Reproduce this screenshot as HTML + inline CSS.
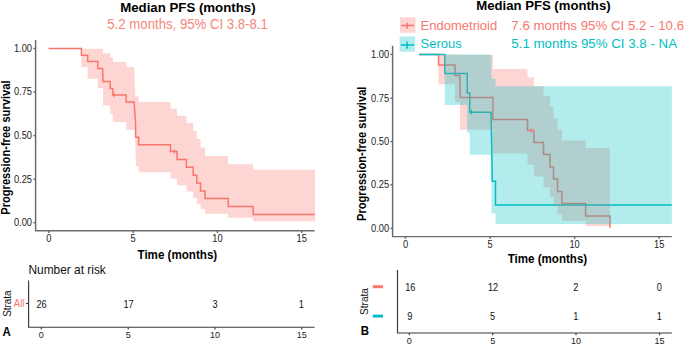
<!DOCTYPE html><html><head><meta charset="utf-8"><style>html,body{margin:0;padding:0;background:#fff;overflow:hidden}svg{display:block}text{font-family:"Liberation Sans",sans-serif}</style></head><body>
<svg width="685" height="344" viewBox="0 0 685 344">
<polyline points="48.5,48.5 81.4,48.5 81.4,55.2 87.7,55.2 87.7,61.6 97.75,61.6 97.75,68.5 102.6,68.5 103.1,81.6 110.2,81.6 110.2,88.4 112.8,88.4 112.8,95 126.2,95 126.2,101.9 134.1,101.9 135.25,118 135.6,124 135.6,137.25 138.6,137.25 138.6,144.75 170.5,144.75 170.5,151.4 177,151.4 177,159.4 186.4,159.4 186.4,167.25 193.2,167.25 193.2,175.3 196.8,175.3 196.8,183.1 200.5,183.1 200.5,190.9 205,190.9 205,198.5 228.2,198.5 228.2,206.4 253.1,206.4 253.1,214.45 314.9,214.45" fill="none" stroke="#F8766D" stroke-width="1.5"/>
<polygon points="81.4,48.75 103.1,48.75 103.1,53.25 110.2,53.25 110.2,57.25 112.8,57.25 112.8,61.9 126.2,61.9 126.2,67.1 134.2,67.1 135.3,96.25 138.6,96.25 138.6,102.1 170.5,102.1 170.5,108.75 177,108.75 177,115.8 186.4,115.8 186.4,123.1 193.2,123.1 193.2,131 196.8,131 196.8,139 200.5,139 200.5,147.6 205,147.6 205,156 228.2,156 228.2,164.25 253.1,164.25 253.1,169.7 315,169.7 315,221.2 253.1,221.2 253.1,217.7 228.2,217.7 228.2,213.8 205,213.8 205,209 200.5,209 200.5,204 196.8,204 196.8,197.9 193.2,197.9 193.2,191.6 186.4,191.6 186.4,185.25 177,185.25 177,178.5 170.5,178.5 170.5,172.3 138.6,172.3 138.6,166 136,166 135,129.75 126.2,129.75 126.2,121.9 112.8,121.9 112.8,113.75 110.2,113.75 110.2,105.6 103.1,105.6 103.1,88.1 97.75,88.1 97.75,78.75 87.7,78.75 87.7,67.1 81.4,67.1" fill="#F8766D" fill-opacity="0.3"/>
<path d="M111.6,95H116.4M114,92.6V97.4" stroke="#F8766D" stroke-width="1"/>
<path d="M172.0,151.4H176.8M174.4,149.0V153.8" stroke="#F8766D" stroke-width="1"/>
<g stroke="#6a6a6a" stroke-width="1.45" fill="none">
<path d="M35.6,40.1V230.75H314.5"/>
<path d="M33.4,48.5H35.6"/>
<path d="M33.4,92H35.6"/>
<path d="M33.4,135.6H35.6"/>
<path d="M33.4,179.2H35.6"/>
<path d="M33.4,222.75H35.6"/>
<path d="M48.75,230.75V233"/>
<path d="M133,230.75V233"/>
<path d="M217.4,230.75V233"/>
<path d="M301.75,230.75V233"/>
</g>
<g font-size="9.3" fill="#222" text-anchor="end">
<text transform="translate(32,51.9) scale(1,1.08)">1.00</text>
<text transform="translate(32,95.4) scale(1,1.08)">0.75</text>
<text transform="translate(32,139.0) scale(1,1.08)">0.50</text>
<text transform="translate(32,182.6) scale(1,1.08)">0.25</text>
<text transform="translate(32,226.15) scale(1,1.08)">0.00</text>
</g>
<g font-size="9.3" fill="#222" text-anchor="middle">
<text transform="translate(48.75,241.8) scale(1,1.1)">0</text>
<text transform="translate(133,241.8) scale(1,1.1)">5</text>
<text transform="translate(217.4,241.8) scale(1,1.1)">10</text>
<text transform="translate(301.75,241.8) scale(1,1.1)">15</text>
</g>
<text x="177.35" y="258.6" font-size="12" font-weight="bold" text-anchor="middle" textLength="79.7" lengthAdjust="spacingAndGlyphs">Time (months)</text>
<text transform="translate(10.3,147.65) rotate(-90)" font-size="12.3" font-weight="bold" text-anchor="middle" textLength="134.3" lengthAdjust="spacingAndGlyphs">Progression-free survival</text>
<text x="187.9" y="12.2" font-size="13.6" font-weight="bold" text-anchor="middle" textLength="135.4" lengthAdjust="spacingAndGlyphs">Median PFS (months)</text>
<text transform="translate(187.6,29.1) scale(1,1.1)" font-size="13.3" fill="#F6857D" text-anchor="middle" textLength="160.5" lengthAdjust="spacingAndGlyphs">5.2 months, 95% CI 3.8-8.1</text>
<text x="28.5" y="273.5" font-size="11.9" fill="#111">Number at risk</text>
<g stroke="#3a3a3a" stroke-width="1.15" fill="none"><path d="M28.6,280.5V327.2H314.5"/><path d="M26,303.5H28.5"/>
<path d="M41.25,327.2V329.5"/>
<path d="M128.25,327.2V329.5"/>
<path d="M215,327.2V329.5"/>
<path d="M301.75,327.2V329.5"/>
</g>
<text transform="translate(24.4,306.5) scale(1,1.12)" font-size="9.6" fill="#F8766D" text-anchor="end">All</text>
<g font-size="9.2" fill="#111" text-anchor="middle">
<text transform="translate(41.5,307.5) scale(1,1.17)">26</text>
<text transform="translate(128.5,307.5) scale(1,1.17)">17</text>
<text transform="translate(215,307.5) scale(1,1.17)">3</text>
<text transform="translate(301.25,307.5) scale(1,1.17)">1</text>
</g>
<g font-size="9" fill="#222" text-anchor="middle">
<text x="41.25" y="337.8">0</text>
<text x="128.25" y="337.8">5</text>
<text x="215" y="337.8">10</text>
<text x="301.75" y="337.8">15</text>
</g>
<text transform="translate(11.2,303.6) rotate(-90)" font-size="11" fill="#111" text-anchor="middle" textLength="26.5" lengthAdjust="spacingAndGlyphs">Strata</text>
<text transform="translate(2.6,336.1) scale(1,1.08)" font-size="11.5" font-weight="bold">A</text>
<polyline points="419,54.4 438.5,54.4 438.5,65.1 455,65.1 455,75.6 459.75,75.6 460.3,97.5 492.9,97.5 492.9,119.4 527.5,119.4 527.5,130.4 534,130.4 534,142.5 543.5,142.5 543.5,154.4 550,154.4 550,166.9 553.5,166.9 553.5,179.1 557.5,179.1 557.5,191.5 561.9,191.5 561.9,203.5 585.6,203.5 585.6,216 610,216 610,227.75" fill="none" stroke="#F8766D" stroke-width="1.5"/>
<polyline points="419,54.4 444.75,54.4 444.75,73.6 467.25,73.6 467.25,93.1 469.75,93.1 469.75,112.25 491,112.25 491.8,150 492.3,181.25 495.5,181.25 495.5,204.9 671.8,204.9" fill="none" stroke="#00BFC4" stroke-width="1.5"/>
<polygon points="438.5,54.4 459.9,54.4 459.9,55 492.9,55 492.9,69.1 527.5,69.1 527.5,77.25 534,77.25 534,86.25 543.5,86.25 543.5,96 550,96 550,106.5 553.5,106.5 553.5,118.1 557.5,118.1 557.5,129.4 561.9,129.4 561.9,140.6 585.6,140.6 585.6,148.1 610,148.1 610,226 585.6,226 585.6,221 561.9,221 561.9,214.4 557.5,214.4 557.5,206.1 553.5,206.1 553.5,196.9 550,196.9 550,187.25 543.5,187.25 543.5,176.5 534,176.5 534,164.75 527.5,164.75 527.5,153.5 492.9,153.5 492.9,129.75 460,129.75 460,101.9 455,101.9 455,84.2 438.5,84.2" fill="#F8766D" fill-opacity="0.3"/>
<polygon points="444.75,54.4 491.5,54.4 491.5,78.75 495.5,78.75 495.5,86.25 671.8,86.25 671.8,224 495.5,224 495.5,213.25 491.5,213.25 491.5,154.75 469.75,154.75 469.75,132.5 467.25,132.5 467.25,105 444.75,105" fill="#00BFC4" fill-opacity="0.3"/>
<path d="M528.85,130.4H533.65M531.25,128.0V132.8" stroke="#F8766D" stroke-width="1"/>
<path d="M469.0,112.25H473.79999999999995M471.4,109.85V114.65" stroke="#00BFC4" stroke-width="1"/>
<g stroke="#6a6a6a" stroke-width="1.45" fill="none">
<path d="M392.6,45.7V236.6H671.8"/>
<path d="M390.4,54.4H392.6"/>
<path d="M390.4,98.2H392.6"/>
<path d="M390.4,141.6H392.6"/>
<path d="M390.4,184.8H392.6"/>
<path d="M390.4,228.4H392.6"/>
<path d="M405.5,236.6V238.8"/>
<path d="M490.2,236.6V238.8"/>
<path d="M574.6,236.6V238.8"/>
<path d="M659.2,236.6V238.8"/>
</g>
<g font-size="9.3" fill="#222" text-anchor="end">
<text transform="translate(389.1,57.8) scale(1,1.08)">1.00</text>
<text transform="translate(389.1,101.60000000000001) scale(1,1.08)">0.75</text>
<text transform="translate(389.1,145.0) scale(1,1.08)">0.50</text>
<text transform="translate(389.1,188.20000000000002) scale(1,1.08)">0.25</text>
<text transform="translate(389.1,231.8) scale(1,1.08)">0.00</text>
</g>
<g font-size="9.3" fill="#222" text-anchor="middle">
<text transform="translate(405.5,247.6) scale(1,1.1)">0</text>
<text transform="translate(490.2,247.6) scale(1,1.1)">5</text>
<text transform="translate(574.6,247.6) scale(1,1.1)">10</text>
<text transform="translate(659.2,247.6) scale(1,1.1)">15</text>
</g>
<text x="547.45" y="262.9" font-size="12" font-weight="bold" text-anchor="middle" textLength="79.5" lengthAdjust="spacingAndGlyphs">Time (months)</text>
<text transform="translate(365.8,153.8) rotate(-90)" font-size="12.3" font-weight="bold" text-anchor="middle" textLength="134.5" lengthAdjust="spacingAndGlyphs">Progression-free survival</text>
<text x="543.4" y="9.5" font-size="13.6" font-weight="bold" text-anchor="middle" textLength="134.4" lengthAdjust="spacingAndGlyphs">Median PFS (months)</text>
<rect x="400" y="17.25" width="15.5" height="15.5" fill="#F8766D" fill-opacity="0.3"/>
<path d="M401.2,25.4H414.3M407.2,22.7V28.8" stroke="#F8766D" stroke-width="1.5"/>
<rect x="399.6" y="36.5" width="15.5" height="15.3" fill="#00BFC4" fill-opacity="0.3"/>
<path d="M400.8,45H414.2M407.1,41.6V48.8" stroke="#00BFC4" stroke-width="1.5"/>
<text x="420.6" y="29.75" font-size="13" fill="#F8766D">Endometrioid</text>
<text x="420.6" y="48.4" font-size="13" fill="#00BFC4">Serous</text>
<text x="511.3" y="29.6" font-size="13.4" fill="#F8766D" textLength="172.8" lengthAdjust="spacingAndGlyphs">7.6 months 95% CI 5.2 - 10.6</text>
<text x="511.3" y="48.3" font-size="13.4" fill="#00BFC4" textLength="165.8" lengthAdjust="spacingAndGlyphs">5.1 months 95% CI 3.8 - NA</text>
<g stroke="#3a3a3a" stroke-width="1.15" fill="none"><path d="M397.5,270V333H671.8"/>
<path d="M409.25,333V335.3"/>
<path d="M492.75,333V335.3"/>
<path d="M576,333V335.3"/>
<path d="M659.6,333V335.3"/>
</g>
<path d="M372.8,286.7H383" stroke="#F8766D" stroke-width="3"/>
<path d="M372.8,316.1H383" stroke="#00BFC4" stroke-width="3"/>
<g font-size="9.2" fill="#111" text-anchor="middle">
<text transform="translate(410.3,291.1) scale(1,1.17)">16</text>
<text transform="translate(493,291.1) scale(1,1.17)">12</text>
<text transform="translate(575.8,291.1) scale(1,1.17)">2</text>
<text transform="translate(659.2,291.1) scale(1,1.17)">0</text>
<text transform="translate(409.9,320) scale(1,1.17)">9</text>
<text transform="translate(492.5,320) scale(1,1.17)">5</text>
<text transform="translate(575.8,320) scale(1,1.17)">1</text>
<text transform="translate(659.2,320) scale(1,1.17)">1</text>
</g>
<g font-size="9" fill="#222" text-anchor="middle">
<text x="409.25" y="344">0</text>
<text x="492.75" y="344">5</text>
<text x="576" y="344">10</text>
<text x="659.6" y="344">15</text>
</g>
<text transform="translate(367.7,301.5) rotate(-90)" font-size="11" fill="#111" text-anchor="middle" textLength="27" lengthAdjust="spacingAndGlyphs">Strata</text>
<text transform="translate(360.7,335.4) scale(1,1.08)" font-size="11.5" font-weight="bold">B</text>
</svg></body></html>
